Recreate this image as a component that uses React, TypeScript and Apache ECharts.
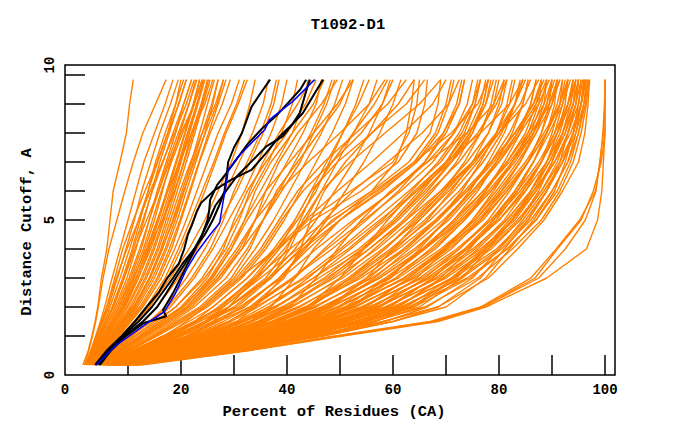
import React, { useEffect, useRef } from "react";
import * as echarts from "echarts";

const chartTitle = "T1092-D1";
const xAxisTitle = "Percent of Residues (CA)";
const yAxisTitle = "Distance Cutoff, A";

const xTickValues = [10, 20, 30, 40, 50, 60, 70, 80, 90, 100];
const xLabelValues = [20, 40, 60, 80, 100];
const yTickValues = [1, 2, 3, 4, 5, 6, 7, 8, 9, 10];
const yLabelValues = [0, 5, 10];

// distance cutoffs (A) at which every orange model curve is sampled
const cutoffLevels = [0, 0.5, 1, 1.5, 2, 3, 4, 5, 6, 7, 8, 9, 9.84];

// percent of residues at each cutoff, steep models on the left
const leftFanLines = [
  [1.5, 2.5, 3.2, 3.8, 4.3, 5.0, 6.0, 6.6, 7.2, 8.5, 9.7, 10.3, 11.0],
  [1.8, 2.6, 3.3, 3.9, 4.4, 5.3, 6.4, 7.9, 9.4, 11.0, 12.8, 15.2, 17.2],
  [2.0, 3.0, 3.9, 4.8, 5.6, 7.0, 8.5, 10.0, 11.5, 13.0, 15.0, 17.0, 18.5],
  [2.2, 3.3, 4.3, 5.3, 6.3, 8.0, 9.6, 11.2, 12.6, 14.3, 16.0, 18.0, 19.5],
  [2.3, 3.5, 4.6, 5.8, 7.0, 9.0, 10.8, 12.3, 13.8, 15.2, 17.0, 19.0, 20.5],
  [2.5, 3.8, 5.0, 6.3, 7.6, 9.8, 11.5, 13.0, 14.5, 16.0, 17.8, 19.5, 21.0],
  [2.6, 4.0, 5.4, 6.8, 8.2, 10.5, 12.5, 14.0, 15.5, 17.2, 19.0, 20.5, 22.0],
  [2.8, 4.2, 5.8, 7.3, 8.8, 11.2, 13.2, 15.0, 16.5, 18.0, 19.8, 21.5, 22.8],
  [3.0, 4.5, 6.2, 7.8, 9.5, 12.0, 14.0, 15.8, 17.5, 19.2, 20.8, 22.5, 23.5],
  [3.1, 4.8, 6.5, 8.3, 10.0, 12.8, 15.0, 16.8, 18.5, 20.0, 21.6, 23.2, 24.5],
  [3.2, 5.0, 6.9, 8.8, 10.7, 13.5, 15.8, 17.6, 19.3, 21.0, 22.6, 24.2, 25.5],
  [3.4, 5.3, 7.3, 9.3, 11.3, 14.2, 16.5, 18.4, 20.2, 22.0, 23.5, 25.0, 26.3],
  [3.5, 5.6, 7.7, 9.8, 11.8, 15.0, 17.3, 19.3, 21.0, 22.8, 24.5, 26.0, 27.0],
  [2.4, 3.6, 4.8, 6.0, 7.3, 9.3, 11.3, 13.5, 15.8, 17.8, 20.0, 22.5, 24.0],
  [2.7, 4.1, 5.6, 7.1, 8.6, 11.0, 13.5, 15.5, 17.5, 19.8, 22.0, 24.5, 26.0],
  [3.3, 5.1, 7.0, 9.0, 11.0, 14.0, 16.2, 18.0, 19.8, 21.8, 24.0, 26.5, 28.0],
  [3.6, 5.8, 8.0, 10.3, 12.5, 15.8, 18.2, 20.0, 21.8, 23.5, 25.5, 27.8, 29.3],
  [2.1, 3.2, 4.2, 5.2, 6.0, 7.5, 9.0, 11.0, 13.2, 15.5, 17.5, 19.0, 20.0],
  [2.9, 4.4, 6.0, 7.6, 9.2, 11.6, 13.8, 16.5, 18.8, 20.5, 22.0, 23.8, 25.0],
  [3.7, 6.0, 8.3, 10.6, 12.8, 16.3, 18.8, 21.0, 23.0, 25.0, 27.0, 29.5, 31.0],
  [2.0, 3.0, 4.0, 5.0, 6.0, 7.8, 9.8, 12.0, 14.2, 16.5, 18.8, 21.0, 22.5],
  [3.8, 6.2, 8.7, 11.2, 13.5, 17.0, 19.5, 21.8, 24.0, 26.2, 28.2, 30.5, 32.0],
  [2.2, 3.4, 4.5, 5.6, 6.6, 8.5, 10.3, 12.0, 13.8, 15.6, 17.5, 19.6, 21.0],
  [2.5, 3.9, 5.2, 6.5, 7.9, 10.2, 12.2, 14.0, 15.8, 17.5, 19.5, 21.5, 23.0],
  [2.8, 4.3, 5.9, 7.5, 9.0, 11.5, 13.7, 15.6, 17.3, 19.0, 20.7, 22.3, 23.5],
  [3.0, 4.6, 6.4, 8.1, 9.8, 12.5, 14.7, 16.6, 18.2, 19.8, 21.4, 23.0, 24.2],
  [3.2, 5.0, 6.8, 8.6, 10.4, 13.2, 15.5, 17.2, 18.9, 20.6, 22.3, 24.0, 25.2],
  [3.4, 5.4, 7.4, 9.5, 11.5, 14.6, 17.0, 18.9, 20.6, 22.3, 24.0, 25.8, 27.0],
  [2.3, 3.5, 4.7, 5.9, 7.1, 9.2, 11.0, 12.8, 14.6, 16.6, 18.5, 20.5, 22.0],
  [2.6, 4.0, 5.4, 6.9, 8.3, 10.8, 12.9, 14.6, 16.3, 18.2, 20.3, 22.5, 24.0],
  [3.6, 5.7, 7.9, 10.0, 12.2, 15.5, 17.8, 19.8, 21.6, 23.4, 25.2, 27.0, 28.5],
  [2.9, 4.5, 6.1, 7.7, 9.3, 11.9, 14.3, 16.2, 17.9, 19.6, 21.2, 23.0, 24.5],
  [3.3, 5.2, 7.1, 9.1, 11.1, 14.1, 16.4, 18.6, 20.5, 22.5, 24.6, 26.8, 28.0],
  [3.9, 6.3, 8.9, 11.5, 14.0, 17.5, 20.0, 22.3, 24.5, 26.5, 28.5, 30.8, 32.5],
];

// models crossing the middle of the plot
const middleFanLines = [
  [4.0, 6.5, 9.0, 11.5, 14.0, 18.0, 21.5, 24.5, 27.0, 29.5, 31.5, 33.0, 34.0],
  [4.2, 7.0, 10.0, 13.0, 15.5, 19.5, 23.0, 26.0, 28.5, 31.0, 33.5, 35.5, 36.5],
  [4.5, 7.5, 10.8, 14.0, 17.0, 21.0, 24.5, 27.5, 30.5, 33.0, 35.5, 37.5, 38.5],
  [4.3, 7.2, 10.5, 14.5, 18.0, 22.5, 26.0, 29.0, 32.0, 34.5, 37.0, 39.0, 40.0],
  [4.8, 8.0, 11.5, 15.5, 19.0, 24.0, 27.5, 30.5, 33.5, 36.5, 39.0, 41.0, 42.0],
  [5.0, 8.5, 12.5, 16.5, 20.5, 25.5, 29.0, 32.0, 35.0, 38.0, 41.0, 43.0, 44.0],
  [4.6, 7.8, 11.2, 15.0, 19.0, 24.5, 28.5, 31.0, 33.0, 35.5, 38.5, 42.0, 44.5],
  [5.2, 9.0, 13.0, 17.5, 21.5, 27.0, 31.0, 34.0, 37.0, 40.0, 43.0, 45.5, 46.5],
  [5.5, 9.5, 14.0, 18.5, 22.5, 28.5, 32.5, 35.5, 38.5, 41.5, 44.5, 47.0, 48.5],
  [5.0, 8.8, 13.0, 17.0, 21.0, 26.0, 29.5, 32.0, 34.0, 37.0, 41.0, 45.0, 47.0],
  [5.8, 10.0, 15.0, 19.5, 24.0, 30.0, 34.0, 37.5, 40.5, 43.5, 46.5, 49.0, 50.5],
  [6.0, 10.5, 15.5, 20.5, 25.0, 31.5, 36.0, 39.5, 42.5, 45.5, 48.5, 51.0, 52.5],
  [5.4, 9.2, 13.5, 18.0, 22.0, 27.5, 31.5, 34.0, 36.0, 38.5, 42.0, 46.5, 49.5],
  [6.2, 11.0, 16.5, 21.5, 26.0, 32.5, 37.5, 41.5, 44.5, 47.5, 50.5, 53.0, 54.5],
  [4.4, 7.4, 10.6, 14.0, 17.5, 22.0, 25.5, 28.0, 30.0, 32.5, 35.0, 37.0, 38.0],
  [6.5, 11.5, 17.5, 23.0, 28.0, 34.5, 39.5, 43.5, 46.5, 49.5, 52.5, 55.5, 57.0],
  [5.6, 9.8, 14.5, 19.0, 23.5, 29.5, 33.0, 35.5, 38.0, 42.0, 46.0, 50.0, 52.0],
  [6.8, 12.0, 18.5, 24.5, 30.0, 36.5, 41.5, 45.5, 49.0, 52.5, 55.5, 58.0, 59.5],
  [4.7, 8.2, 12.0, 16.0, 20.0, 25.0, 28.0, 30.0, 32.5, 36.0, 40.0, 43.5, 45.5],
  [7.0, 12.5, 19.5, 26.0, 32.0, 38.5, 43.5, 47.5, 51.0, 54.5, 57.5, 60.0, 61.5],
  [5.3, 9.0, 13.2, 17.5, 21.5, 27.0, 31.5, 35.5, 39.0, 42.5, 45.0, 47.5, 49.0],
  [6.3, 11.2, 17.0, 22.5, 27.5, 33.5, 38.0, 42.0, 45.5, 48.0, 50.5, 53.5, 55.5],
  [5.1, 8.7, 12.8, 17.0, 21.0, 26.5, 30.5, 34.0, 38.5, 44.0, 50.0, 55.5, 58.5],
  [5.7, 10.0, 14.8, 19.5, 24.0, 30.5, 35.0, 38.5, 42.0, 47.0, 53.0, 59.0, 62.5],
  [6.4, 11.5, 17.0, 22.5, 27.5, 34.0, 38.5, 41.5, 44.5, 49.5, 56.0, 62.5, 66.0],
  [6.9, 12.5, 19.0, 25.0, 30.5, 37.0, 40.5, 43.0, 46.5, 52.0, 58.5, 65.0, 69.0],
  [4.9, 8.4, 12.3, 16.3, 20.3, 25.8, 29.5, 32.5, 36.0, 40.5, 45.0, 49.5, 52.5],
  [5.9, 10.3, 15.3, 20.0, 24.5, 31.0, 35.5, 39.0, 43.0, 48.5, 54.0, 58.0, 60.0],
  [6.6, 11.8, 17.8, 23.5, 29.0, 36.0, 40.0, 42.5, 45.0, 48.5, 52.5, 56.5, 59.0],
  [7.2, 13.0, 20.0, 27.0, 33.0, 39.5, 42.5, 44.5, 47.0, 51.0, 56.0, 61.0, 64.0],
];

// the dense bulk of models on the right
const bulkLines = [
  [5.0, 11.0, 17.0, 21.0, 24.5, 31.0, 38.0, 45.0, 54.0, 61.0, 64.5, 66.0, 66.5],
  [5.3, 12.0, 18.5, 23.0, 27.0, 34.0, 40.5, 47.5, 56.0, 63.0, 67.0, 68.5, 69.0],
  [5.6, 13.0, 20.0, 25.0, 29.0, 36.5, 43.0, 50.0, 58.0, 64.5, 68.5, 70.5, 71.5],
  [5.8, 13.5, 21.0, 26.5, 31.0, 39.0, 45.5, 52.5, 60.0, 66.0, 70.0, 72.5, 73.5],
  [6.0, 14.0, 22.0, 28.0, 33.0, 41.0, 47.5, 54.5, 61.5, 67.5, 71.5, 74.0, 75.0],
  [6.2, 14.5, 23.0, 29.5, 34.5, 43.0, 50.0, 56.5, 63.0, 69.0, 73.0, 75.5, 76.5],
  [6.4, 15.0, 24.0, 31.0, 36.5, 45.0, 52.0, 58.5, 64.5, 70.0, 74.0, 76.5, 77.5],
  [6.6, 15.5, 25.0, 32.0, 38.0, 47.0, 54.0, 60.5, 66.0, 71.0, 75.0, 77.5, 78.5],
  [6.8, 16.0, 26.0, 33.5, 39.5, 48.0, 54.5, 60.5, 65.5, 70.0, 73.5, 75.5, 76.5],
  [7.0, 16.5, 27.0, 35.0, 41.0, 50.0, 56.5, 62.5, 67.5, 72.0, 75.0, 77.0, 78.0],
  [7.2, 17.0, 28.0, 36.0, 42.5, 51.5, 58.5, 64.5, 69.5, 73.5, 76.5, 78.5, 79.5],
  [7.4, 17.5, 29.0, 37.5, 44.0, 53.5, 60.5, 66.5, 71.0, 75.0, 78.0, 80.0, 81.0],
  [7.6, 18.0, 30.0, 38.5, 45.5, 55.0, 62.5, 68.5, 73.0, 76.5, 79.5, 81.5, 82.5],
  [7.8, 18.5, 31.0, 40.0, 47.0, 57.0, 64.5, 70.0, 74.5, 78.0, 81.0, 83.0, 84.0],
  [8.0, 19.0, 32.0, 41.5, 48.5, 59.0, 66.0, 71.5, 76.0, 79.5, 82.5, 84.5, 85.5],
  [8.2, 19.5, 33.0, 42.5, 50.0, 60.5, 68.0, 73.5, 77.5, 81.0, 84.0, 86.0, 87.0],
  [8.4, 20.0, 34.0, 44.0, 51.5, 62.0, 69.5, 75.0, 79.0, 82.5, 85.5, 87.5, 88.0],
  [8.6, 20.5, 35.0, 45.0, 53.0, 63.5, 71.0, 76.5, 80.5, 84.0, 86.5, 88.5, 89.0],
  [8.8, 21.0, 36.0, 46.5, 54.5, 65.0, 72.5, 78.0, 82.0, 85.5, 88.0, 89.5, 90.0],
  [9.0, 21.5, 37.0, 47.5, 56.0, 66.5, 74.0, 79.5, 83.5, 86.5, 89.0, 90.5, 91.0],
  [9.2, 22.0, 38.0, 49.0, 57.5, 68.0, 75.5, 81.0, 85.0, 88.0, 90.0, 91.5, 92.0],
  [9.4, 22.5, 39.0, 50.0, 59.0, 69.5, 77.0, 82.5, 86.0, 89.0, 91.0, 92.5, 93.0],
  [9.6, 23.0, 40.0, 51.5, 60.5, 71.0, 78.5, 84.0, 87.5, 90.0, 92.0, 93.5, 94.0],
  [9.8, 23.5, 41.0, 53.0, 62.0, 72.5, 80.0, 85.5, 89.0, 91.5, 93.0, 94.5, 95.0],
  [10.0, 24.0, 42.0, 54.5, 64.0, 74.5, 81.5, 87.0, 90.5, 92.5, 94.0, 95.5, 96.0],
  [10.2, 25.0, 43.0, 56.0, 66.0, 76.0, 82.5, 88.0, 91.5, 94.0, 95.5, 96.5, 97.0],
  [10.5, 26.0, 44.5, 58.0, 68.5, 78.0, 83.5, 88.5, 92.0, 95.0, 96.2, 96.8, 97.1],
  [10.8, 27.0, 46.0, 60.0, 70.0, 77.5, 82.0, 86.5, 90.0, 93.0, 95.0, 96.3, 96.8],
  [6.5, 15.0, 22.0, 26.0, 29.0, 34.0, 38.5, 44.0, 52.0, 60.0, 63.0, 64.5, 65.0],
  [7.0, 17.0, 25.5, 30.5, 34.0, 39.0, 43.0, 48.5, 57.0, 64.0, 68.0, 70.0, 71.0],
  [7.5, 18.0, 27.0, 33.0, 37.0, 41.5, 45.0, 50.0, 56.5, 64.0, 71.0, 76.0, 78.0],
  [8.0, 19.5, 29.5, 36.0, 40.5, 45.5, 49.5, 54.0, 59.5, 66.5, 74.0, 79.0, 81.0],
  [8.5, 21.0, 32.5, 39.0, 44.0, 50.0, 54.5, 59.0, 64.0, 70.0, 76.5, 82.0, 84.5],
  [9.0, 22.5, 35.0, 42.5, 48.0, 55.0, 60.0, 65.0, 70.0, 75.0, 80.0, 85.0, 87.5],
  [9.5, 23.5, 37.5, 46.0, 52.0, 59.5, 65.0, 70.0, 75.0, 79.5, 83.5, 87.0, 89.0],
  [10.0, 25.5, 40.0, 49.5, 56.5, 64.5, 70.0, 75.0, 79.5, 83.5, 87.0, 90.0, 91.5],
  [10.5, 27.0, 43.0, 53.0, 61.0, 69.0, 74.5, 79.0, 83.0, 86.5, 89.5, 92.0, 93.5],
  [11.0, 29.0, 45.5, 56.5, 65.0, 73.0, 78.0, 82.5, 86.5, 89.5, 92.0, 94.0, 95.0],
  [11.5, 30.0, 47.0, 60.0, 68.5, 76.5, 81.0, 85.5, 89.0, 92.0, 94.0, 95.5, 96.2],
  [6.0, 13.5, 20.0, 24.5, 28.0, 35.0, 42.0, 49.0, 56.0, 60.5, 62.5, 63.5, 64.0],
  [7.3, 16.5, 24.0, 29.0, 33.5, 41.0, 48.5, 55.0, 61.0, 66.0, 69.5, 72.0, 73.0],
  [8.3, 18.5, 27.5, 33.0, 38.0, 46.0, 54.5, 61.0, 66.5, 71.0, 74.5, 77.5, 79.0],
  [9.3, 21.0, 31.0, 37.5, 43.5, 52.0, 59.5, 66.0, 71.5, 76.0, 80.0, 83.0, 84.5],
  [10.3, 24.0, 35.5, 43.0, 49.5, 58.5, 66.0, 72.5, 77.5, 81.5, 85.5, 88.5, 90.0],
  [11.2, 28.0, 41.5, 51.0, 59.0, 67.5, 74.0, 80.0, 84.5, 88.0, 91.0, 93.0, 94.5],
  [6.1, 14.2, 22.5, 29.0, 34.0, 43.5, 51.5, 58.0, 63.5, 68.5, 72.5, 75.0, 76.0],
  [6.3, 14.8, 23.5, 30.5, 35.5, 45.0, 53.5, 60.0, 65.0, 70.5, 74.5, 77.0, 78.0],
  [6.5, 15.2, 24.5, 31.5, 37.5, 47.5, 55.5, 62.0, 67.0, 72.5, 76.5, 79.0, 80.0],
  [6.7, 15.8, 25.5, 33.0, 39.0, 49.0, 57.0, 63.5, 69.0, 74.0, 78.0, 80.5, 81.5],
  [6.9, 16.2, 26.5, 34.5, 40.5, 50.5, 58.0, 65.0, 70.5, 75.5, 79.5, 82.0, 83.0],
  [7.1, 16.8, 27.5, 35.5, 42.0, 52.5, 60.0, 67.0, 72.5, 77.0, 80.5, 83.0, 84.5],
  [7.3, 17.2, 28.5, 37.0, 43.5, 54.0, 62.0, 68.5, 74.0, 78.5, 82.0, 84.5, 85.5],
  [7.5, 17.8, 29.5, 38.0, 45.0, 56.0, 64.0, 70.5, 75.5, 80.0, 83.5, 86.0, 87.0],
  [7.7, 18.2, 30.5, 39.5, 46.5, 57.5, 65.5, 72.0, 77.0, 81.5, 85.0, 87.0, 88.0],
  [7.9, 18.8, 31.5, 40.5, 48.0, 59.5, 67.5, 73.5, 78.5, 82.5, 86.0, 88.0, 89.0],
  [8.1, 19.2, 32.5, 42.0, 49.5, 61.0, 69.0, 75.5, 80.0, 84.0, 87.0, 89.0, 90.0],
  [8.3, 19.8, 33.5, 43.5, 51.0, 62.5, 70.5, 77.0, 81.5, 85.5, 88.0, 90.0, 91.0],
  [8.5, 20.2, 34.5, 44.5, 52.5, 64.0, 72.0, 78.5, 83.0, 86.5, 89.0, 91.0, 92.0],
  [8.7, 20.8, 35.5, 46.0, 54.0, 65.5, 73.5, 80.0, 84.5, 88.0, 90.5, 92.0, 93.0],
  [8.9, 21.2, 36.5, 47.0, 55.5, 67.0, 75.0, 81.5, 86.0, 89.0, 91.5, 93.0, 94.0],
  [9.1, 21.8, 37.5, 48.5, 57.0, 68.5, 76.5, 83.0, 87.0, 90.0, 92.5, 94.0, 94.5],
  [9.3, 22.2, 38.5, 49.5, 58.5, 70.0, 78.0, 84.0, 88.0, 91.0, 93.0, 94.5, 95.0],
  [9.5, 22.8, 39.5, 51.0, 60.0, 71.5, 79.5, 85.0, 89.0, 92.0, 94.0, 95.0, 95.5],
  [9.7, 23.2, 40.5, 52.5, 61.5, 73.0, 80.5, 86.0, 90.0, 93.0, 94.5, 95.5, 96.0],
  [9.9, 23.8, 41.5, 54.0, 63.0, 74.0, 81.5, 87.0, 91.0, 93.5, 95.0, 96.0, 96.5],
  [7.0, 17.5, 29.0, 38.0, 44.5, 52.0, 58.5, 64.0, 69.5, 75.0, 80.0, 84.0, 86.0],
  [7.8, 19.0, 31.5, 40.5, 47.5, 55.5, 62.0, 68.0, 73.5, 78.5, 83.0, 86.5, 88.5],
  [8.6, 21.0, 34.0, 43.5, 51.0, 59.0, 65.5, 71.5, 77.0, 82.0, 86.0, 89.5, 91.5],
  [9.4, 22.5, 37.0, 47.0, 55.0, 63.0, 69.5, 75.5, 80.5, 85.0, 88.5, 91.5, 93.0],
  [10.1, 24.5, 40.0, 51.0, 59.5, 67.5, 73.5, 79.0, 84.0, 88.0, 91.0, 93.5, 94.5],
  [10.6, 26.0, 43.0, 55.0, 64.0, 72.0, 77.5, 82.5, 87.0, 90.5, 93.0, 95.0, 95.8],
  [6.8, 16.0, 25.0, 31.5, 36.5, 44.0, 50.5, 57.5, 64.5, 71.0, 76.0, 79.5, 81.5],
  [7.6, 17.5, 27.5, 34.5, 40.0, 48.5, 55.5, 62.5, 69.0, 75.0, 79.5, 83.0, 85.0],
  [8.4, 19.5, 30.0, 37.5, 43.5, 53.0, 61.0, 68.0, 74.0, 79.0, 83.0, 86.5, 88.0],
  [9.2, 21.5, 33.0, 41.0, 47.5, 57.5, 66.0, 73.0, 78.5, 83.0, 86.5, 89.0, 90.5],
  [10.0, 23.5, 36.0, 45.0, 52.0, 62.0, 70.0, 76.5, 81.5, 85.5, 89.0, 91.5, 93.0],
  [10.9, 26.0, 39.5, 49.5, 57.0, 66.5, 74.0, 80.0, 85.0, 89.0, 92.0, 94.0, 95.0],
  [11.4, 28.5, 44.0, 54.5, 62.5, 71.0, 77.5, 83.5, 88.0, 91.5, 94.0, 95.5, 96.3],
  [11.8, 30.5, 46.5, 58.5, 66.5, 75.0, 80.0, 84.5, 88.5, 92.0, 94.5, 96.0, 96.8],
  [6.0, 13.8, 21.5, 27.0, 31.5, 38.5, 44.0, 50.0, 57.5, 64.5, 69.5, 72.5, 73.5],
  [6.4, 14.8, 23.0, 29.0, 33.5, 41.5, 47.0, 53.0, 60.0, 66.5, 71.5, 75.0, 76.5],
  [5.5, 12.5, 19.5, 24.5, 29.0, 37.0, 42.5, 47.0, 52.5, 59.0, 65.5, 70.5, 72.5],
  [5.2, 11.5, 18.0, 22.5, 26.0, 32.5, 38.0, 43.5, 49.5, 56.0, 62.0, 67.5, 70.0],
  [8.8, 22.0, 36.5, 45.5, 52.0, 60.5, 67.0, 73.0, 78.0, 82.5, 86.5, 89.5, 91.0],
  [9.6, 24.5, 39.0, 48.0, 54.5, 63.0, 70.0, 76.0, 81.0, 85.5, 89.0, 91.5, 92.5],
  [10.4, 26.5, 41.5, 50.5, 57.5, 66.0, 72.5, 78.5, 83.5, 87.5, 90.5, 93.0, 94.0],
  [11.1, 28.5, 44.5, 54.0, 61.0, 69.5, 76.0, 81.5, 86.0, 89.5, 92.5, 94.5, 95.5],
  [11.6, 30.0, 46.0, 56.5, 63.5, 71.5, 77.0, 82.0, 86.5, 90.5, 93.5, 95.5, 96.5],
  [8.0, 20.0, 33.5, 42.0, 48.0, 56.5, 63.0, 69.5, 75.0, 80.0, 84.0, 87.5, 89.5],
];

// the few models that reach 100% early
const tailLines = [
  [12.5, 33.0, 50.5, 68.5, 77.5, 89.0, 96.5, 98.6, 99.4, 99.7, 100, 100, 100],
  [12.0, 32.5, 50.0, 68.0, 77.0, 87.5, 92.5, 96.3, 98.3, 99.0, 99.7, 100, 100],
  [11.5, 32.0, 49.5, 67.5, 76.8, 86.8, 91.0, 95.5, 97.8, 99.3, 100, 100, 100],
  [11.0, 31.5, 49.0, 67.0, 76.5, 86.0, 90.8, 95.2, 98.2, 99.1, 99.6, 99.9, 100],
];

// highlighted models: [percent, cutoff]
const blackLines = [
  [[4.0, 0], [6.3, 0.5], [9.0, 1], [12.0, 1.5], [14.5, 2], [16.5, 2.5], [18.5, 3], [20.3, 3.5], [22.5, 4], [24.5, 4.5], [26.0, 5], [27.2, 5.5], [28.2, 6], [28.6, 6.5], [28.9, 7], [30.0, 7.5], [31.5, 8], [32.5, 8.5], [33.3, 8.9], [35.5, 9.5], [36.8, 9.84]],
  [[4.5, 0], [6.5, 0.5], [9.3, 1], [12.8, 1.5], [15.5, 2], [17.3, 2.5], [19.0, 3], [20.8, 3.5], [22.5, 4], [24.0, 4.5], [25.3, 5], [26.5, 5.5], [28.5, 6], [30.5, 6.5], [33.0, 6.96], [36.1, 7.54], [39.2, 7.88], [41.0, 8.3], [42.4, 8.69], [43.7, 9.49], [44.3, 9.84]],
  [[3.8, 0], [6.0, 0.5], [8.8, 1], [11.3, 1.5], [13.5, 2], [15.8, 2.5], [17.4, 3], [19.6, 3.5], [20.6, 4], [21.3, 4.5], [22.0, 4.8], [23.0, 5.3], [23.8, 5.59], [26.4, 6.04], [29.5, 6.39], [33.3, 6.73], [36.0, 7.3], [38.6, 7.88], [41.0, 8.3], [43.0, 8.69], [45.0, 9.3], [46.8, 9.84]],
  [[4.7, 0], [6.8, 0.5], [9.6, 1], [13.0, 1.45], [17.2, 1.68], [16.6, 1.9], [18.5, 2.48], [20.7, 3.29], [22.3, 3.86], [23.8, 4.4], [25.0, 5], [25.3, 5.3], [25.5, 5.7], [26.8, 6.2], [28.5, 6.6], [30.5, 7.1], [32.5, 7.6], [35.0, 8.1], [38.0, 8.6], [40.5, 9.1], [42.5, 9.5], [43.6, 9.84]],
];

const blueLine = [
  [4.0, 0], [7.5, 0.64], [13.2, 1.39], [16.9, 1.85], [18.8, 2.42], [21.0, 3.29], [22.9, 3.86], [25.5, 4.5], [27.3, 4.9], [27.9, 5.59], [28.6, 6.28], [28.9, 6.73], [30.8, 7.19], [33.3, 7.66], [35.8, 8.11], [36.7, 8.46], [41.1, 9.09], [45.2, 9.84],
];

const ORANGE = "#ff8000";
const FONT = "'Liberation Mono', 'DejaVu Sans Mono', monospace";

export default function App() {
  const ref = useRef<HTMLDivElement>(null);

  useEffect(() => {
    if (!ref.current) return;
    const chart = echarts.init(ref.current, undefined, { renderer: "svg" });

    const orangeSeries = [...leftFanLines, ...middleFanLines, ...bulkLines, ...tailLines].map(
      (xs, i) => ({
        type: "line",
        name: "model " + (i + 1),
        xAxisIndex: 0,
        yAxisIndex: 0,
        data: xs.map((x, j) => [x, cutoffLevels[j]]),
        symbol: "none",
        showSymbol: false,
        silent: true,
        z: 2,
        lineStyle: { color: ORANGE, width: 1.4 },
        emphasis: { disabled: true },
      })
    );

    const blackSeries = blackLines.map((pts, i) => ({
      type: "line",
      name: "highlight " + (i + 1),
      xAxisIndex: 0,
      yAxisIndex: 0,
      data: pts,
      symbol: "none",
      showSymbol: false,
      silent: true,
      z: 3,
      lineStyle: { color: "#000000", width: 2 },
      emphasis: { disabled: true },
    }));

    const blueSeries = {
      type: "line",
      name: "best",
      xAxisIndex: 0,
      yAxisIndex: 0,
      data: blueLine,
      symbol: "none",
      showSymbol: false,
      silent: true,
      z: 4,
      lineStyle: { color: "#0000ff", width: 1.5 },
      emphasis: { disabled: true },
    };

    const tickStyle = { color: "#000", width: 1.5 };
    const labelStyle = {
      fontFamily: FONT,
      fontWeight: "bold" as const,
      fontSize: 14,
      color: "#000",
    };
    const titleStyle = {
      fontFamily: FONT,
      fontWeight: "bold",
      fontSize: 15.5,
      fill: "#000",
      textAlign: "center",
      textVerticalAlign: "middle",
    };

    chart.setOption({
      animation: false,
      backgroundColor: "#ffffff",
      textStyle: { fontFamily: FONT },
      grid: [
        { left: 75, right: 75, top: 75, bottom: 75, show: false },
        {
          left: 65,
          right: 65,
          top: 65,
          bottom: 65,
          show: true,
          borderColor: "#000",
          borderWidth: 1.5,
          backgroundColor: "transparent",
          z: 5,
        },
      ],
      xAxis: [
        {
          type: "value",
          gridIndex: 0,
          position: "bottom",
          min: 0,
          max: 100,
          interval: 10,
          axisLine: { show: false },
          splitLine: { show: false },
          axisTick: { show: true, inside: false, length: 10, lineStyle: tickStyle, customValues: xTickValues },
          axisLabel: {
            ...labelStyle,
            margin: 18,
            customValues: xLabelValues,
            formatter: (v: number) => (v !== 0 && v % 20 === 0 ? String(v) : ""),
          },
        },
        {
          type: "value",
          gridIndex: 0,
          position: "top",
          min: 0,
          max: 100,
          interval: 10,
          axisLine: { show: false },
          splitLine: { show: false },
          axisTick: { show: true, inside: false, length: 10, lineStyle: tickStyle, customValues: xTickValues },
          axisLabel: { show: false },
        },
        {
          type: "value",
          gridIndex: 1,
          position: "bottom",
          min: 0,
          max: 100,
          interval: 100,
          axisLine: { show: false },
          splitLine: { show: false },
          axisTick: { show: false },
          axisLabel: {
            ...labelStyle,
            margin: 8,
            formatter: (v: number) => (v === 0 ? "0" : ""),
          },
        },
      ],
      yAxis: [
        {
          type: "value",
          gridIndex: 0,
          position: "left",
          min: 0,
          max: 10,
          interval: 1,
          axisLine: { show: false },
          splitLine: { show: false },
          axisTick: { show: true, inside: false, length: 10, lineStyle: tickStyle, customValues: yTickValues },
          axisLabel: { show: false },
        },
        {
          type: "value",
          gridIndex: 0,
          position: "right",
          min: 0,
          max: 10,
          interval: 1,
          axisLine: { show: false },
          splitLine: { show: false },
          axisTick: { show: true, inside: false, length: 10, lineStyle: tickStyle, customValues: yTickValues },
          axisLabel: { show: false },
        },
        {
          type: "value",
          gridIndex: 1,
          position: "left",
          min: 0,
          max: 10,
          interval: 5,
          axisLine: { show: false },
          splitLine: { show: false },
          axisTick: { show: false },
          axisLabel: {
            ...labelStyle,
            rotate: 90,
            margin: 8,
            customValues: yLabelValues,
          },
        },
      ],
      graphic: [
        { type: "text", x: 348, y: 25, style: { ...titleStyle, text: chartTitle } },
        { type: "text", x: 334, y: 412, style: { ...titleStyle, text: xAxisTitle } },
        { type: "text", x: 27, y: 232, rotation: Math.PI / 2, style: { ...titleStyle, text: yAxisTitle } },
      ],
      series: [...orangeSeries, ...blackSeries, blueSeries],
    });

    return () => {
      chart.dispose();
    };
  }, []);

  return (
    <div
      ref={ref}
      style={{ position: "absolute", left: 0, top: 0, width: 680, height: 440, background: "#fff" }}
    />
  );
}
